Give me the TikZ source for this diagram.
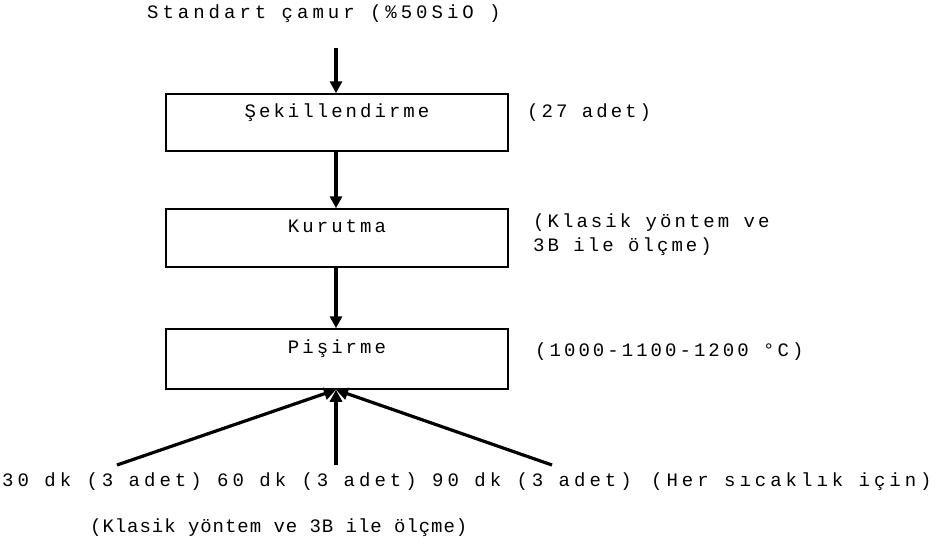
\documentclass[tikz,border=0pt]{standalone}
\usepackage{fontspec}
\setmainfont{Liberation Mono}
\newfontfamily\wide[LetterSpace=16]{Liberation Mono}
\newfontfamily\wider[LetterSpace=21]{Liberation Mono}
\newfontfamily\narrow[LetterSpace=5]{Liberation Mono}
\usetikzlibrary{arrows.meta}
\begin{document}
\begin{tikzpicture}[x=1pt,y=-1pt,
  txt/.style={inner sep=0pt,font=\fontsize{19}{22}\selectfont\wide},
  wtxt/.style={inner sep=0pt,font=\fontsize{19}{22}\selectfont\wider},
  stepbox/.style={draw,line width=1.5pt,minimum width=342pt,inner sep=0pt,
     text height=10pt,text depth=21pt,font=\fontsize{19}{22}\selectfont\wide},
  flow/.style={line width=3.2pt,-{Triangle[length=12pt,width=12pt]}}]
\useasboundingbox (0,0) rectangle (938,550);
\node[wtxt,anchor=west] (title) at (147,14) {Standart çamur (\%50SiO\ )};
\node[stepbox,minimum height=57pt] (b1) at (337,122.5) {Şekillendirme};
\node[stepbox,minimum height=58pt] (b2) at (337,238) {Kurutma};
\node[stepbox,minimum height=60pt] (b3) at (337,359) {Pişirme};
\node[txt,anchor=west] (l1) at (527,113) {(27 adet)};
\node[txt,anchor=west,align=left] (l2) at (533,235) {(Klasik yöntem ve\\[2pt]3B ile ölçme)};
\node[txt,anchor=west] (l3) at (535,352) {(1000-1100-1200 °C)};
\node[wtxt,anchor=west] (t30) at (2,482) {30 dk (3 adet)};
\node[wtxt,anchor=west] (t60) at (217,482) {60 dk (3 adet)};
\node[wtxt,anchor=west] (t90) at (432,482) {90 dk (3 adet)};
\node[wtxt,anchor=west] (ther) at (651,482) {(Her sıcaklık için)};
\node[inner sep=0pt,anchor=west,font=\fontsize{19}{22}\selectfont\narrow] (kl) at (90,528) {(Klasik yöntem ve 3B ile ölçme)};
\coordinate (s0) at (336,48);
\coordinate (s1) at (117,465);
\coordinate (s2) at (336,465);
\coordinate (s3) at (552,465);
\draw[flow] (s0) -- (b1.north -| s0);
\draw[flow] (b1.south -| s0) -- (b2.north -| s0);
\draw[flow] (b2.south -| s0) -- (b3.north -| s0);
\draw[flow] (s1) -- (b3.south -| s0);
\draw[flow] (s2) -- (b3.south -| s0);
\draw[flow] (s3) -- (b3.south -| s0);
\end{tikzpicture}
\end{document}
